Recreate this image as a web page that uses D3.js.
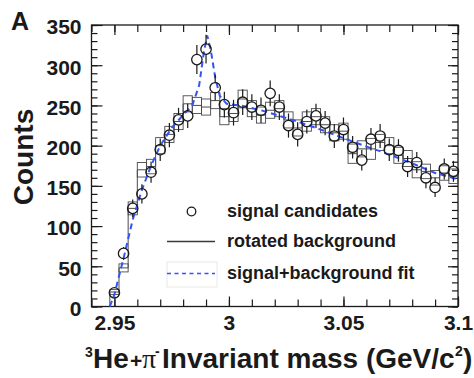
<!DOCTYPE html>
<html>
<head>
<meta charset="utf-8">
<script src="https://cdn.jsdelivr.net/npm/d3@7"></script>
<style>
  body { margin: 0; background: #fff; }
  svg { display: block; }
  text { font-family: "Liberation Sans", Arial, Helvetica, sans-serif; }
</style>
</head>
<body>
<svg id="chart" width="474" height="378"></svg>
<script>
// histogram binning (GeV/c^2)
var binStart = 2.948, binWidth = 0.004;

// signal candidates per bin
var counts = [17, 66, 122, 140, 167, 195, 213, 232, 237, 307, 320, 272, 251, 241, 254, 248, 244, 265, 248, 225,
              214, 230, 237, 228, 212, 220, 198, 182, 208, 212, 195, 194, 174, 179, 160, 148, 171, 168];
var countErr = [4, 8, 11, 12, 13, 14, 15, 15, 15, 18, 18, 16, 16, 16, 16, 16, 16, 16, 16, 15,
                15, 15, 15, 15, 15, 15, 14, 13, 14, 15, 14, 14, 13, 13, 13, 12, 13, 13];

// rotated background per bin
var background = [18, 48, 122, 170, 174, 200, 214, 230, 252, 250, 248, 256, 236, 240, 258, 246, 238, 244, 246, 232,
                  222, 230, 236, 226, 216, 218, 190, 196, 196, 204, 200, 188, 184, 170, 168, 160, 166, 162];
var backgroundErr = [3, 5, 8, 9, 9, 10, 10, 10, 10, 10, 10, 10, 10, 10, 11, 10, 10, 10, 10, 10,
                     10, 12, 10, 10, 10, 10, 12, 10, 13, 10, 10, 10, 10, 10, 9, 9, 9, 9];

// signal+background fit
var fitX = [2.948, 2.950, 2.954, 2.958, 2.962, 2.966, 2.970, 2.975, 2.980, 2.984, 2.987, 2.989, 2.9905,
            2.992, 2.994, 2.996, 2.999, 3.005, 3.014, 3.030, 3.042, 3.055, 3.067, 3.080, 3.090, 3.100];
var fitY = [0, 15, 60, 108, 145, 175, 200, 222, 238, 250, 275, 315, 337,
            320, 285, 262, 252, 250, 244, 230, 218, 204, 192, 178, 166, 158];

// axis ticks
var xTicks = [2.95, 3, 3.05, 3.1];
var xTickLabels = ["2.95", "3", "3.05", "3.1"];
var yTicks = [0, 50, 100, 150, 200, 250, 300, 350];
var yTickLabels = ["0", "50", "100", "150", "200", "250", "300", "350"];

var legendLabels = ["signal candidates", "rotated background", "signal+background fit"];

var frame = {left: 91.5, right: 458, top: 25, bottom: 306.5};
var blue = "#3552f5", ink = "#1a1a1a", histInk = "#4a4a4a";

var svg = d3.select("#chart");

var x = d3.scaleLinear().domain([2.94, 3.1]).range([frame.left, frame.right]);
var y = d3.scaleLinear().domain([0, 350]).range([frame.bottom, frame.top]);

var xMinor = d3.range(2.94, 3.1001, 0.01);
var yMinor = d3.range(0, 351, 10);

//Axes, ROOT style: ticks inside the frame on all four sides
function addAxis(axis, tx, ty){
  var g = svg.append("g")
    .attr("transform", "translate(" + tx + "," + ty + ")")
    .call(axis);
  g.select(".domain").remove();
  g.selectAll(".tick line").style("stroke", ink).style("stroke-width", "1.2");
  return g;
}

addAxis(d3.axisBottom(x).tickValues(xMinor).tickSize(-7).tickFormat(""), 0, frame.bottom);
addAxis(d3.axisTop(x).tickValues(xMinor).tickSize(-7).tickFormat(""), 0, frame.top);
addAxis(d3.axisLeft(y).tickValues(yMinor).tickSize(-6).tickFormat(""), frame.left, 0);
addAxis(d3.axisRight(y).tickValues(yMinor).tickSize(-6).tickFormat(""), frame.right, 0);
addAxis(d3.axisTop(x).tickValues(xTicks).tickSize(-10).tickFormat(""), 0, frame.top);
addAxis(d3.axisRight(y).tickValues(yTicks).tickSize(-10).tickFormat(""), frame.right, 0);

var xAxis = addAxis(d3.axisBottom(x).tickValues(xTicks).tickSize(-10)
    .tickFormat(function(d, i){ return xTickLabels[i]; }), 0, frame.bottom);
xAxis.selectAll("text")
  .attr("y", 23.5)
  .attr("dy", 0)
  .style("font-size", "21px")
  .style("font-weight", "bold")
  .style("fill", ink);

var yAxis = addAxis(d3.axisLeft(y).tickValues(yTicks).tickSize(-11)
    .tickFormat(function(d, i){ return yTickLabels[i]; }), frame.left, 0);
yAxis.selectAll("text")
  .attr("x", -10)
  .attr("dy", "0.42em")
  .style("font-size", "21px")
  .style("font-weight", "bold")
  .style("fill", ink);

//Frame
svg.append("rect")
  .attr("x", frame.left)
  .attr("y", frame.top)
  .attr("width", frame.right - frame.left)
  .attr("height", frame.bottom - frame.top)
  .style("fill", "none")
  .style("stroke", ink)
  .style("stroke-width", "1.3");

var plot = svg.append("g");

//Rotated background: step line plus error boxes
var stepPts = [[x(binStart), y(0)]];
background.forEach(function(b, i){
  stepPts.push([x(binStart + i * binWidth), y(b)]);
  stepPts.push([x(binStart + (i + 1) * binWidth), y(b)]);
});

plot.append("path")
  .attr("d", d3.line()(stepPts))
  .style("fill", "none")
  .style("stroke", histInk)
  .style("stroke-width", "1");

plot.selectAll(".bgbox").data(background)
  .enter().append("rect")
    .attr("class", "bgbox")
    .attr("x", function(d, i){ return x(binStart + i * binWidth); })
    .attr("width", x(binStart + binWidth) - x(binStart))
    .attr("y", function(d, i){ return y(d + backgroundErr[i]); })
    .attr("height", function(d, i){ return y(d - backgroundErr[i]) - y(d + backgroundErr[i]); })
    .style("fill", "none")
    .style("stroke", histInk)
    .style("stroke-width", "0.9");

//Fit
plot.append("path")
  .datum(fitX)
  .attr("d", d3.line()
    .x(function(d){ return x(d); })
    .y(function(d, i){ return y(fitY[i]); }))
  .style("fill", "none")
  .style("stroke", blue)
  .style("stroke-width", "2")
  .style("stroke-dasharray", "6,4");

//Signal candidates: open circles with error bars outside the marker
var r = 5.2;
counts.forEach(function(c, i){
  var cx = x(binStart + (i + 0.5) * binWidth),
      cy = y(c),
      top = y(c + countErr[i]),
      bot = y(c - countErr[i]);

  if(cy - top > r){
    plot.append("line").attr("x1", cx).attr("x2", cx).attr("y1", top).attr("y2", cy - r)
      .style("stroke", ink).style("stroke-width", "1.2");
    plot.append("line").attr("x1", cx).attr("x2", cx).attr("y1", cy + r).attr("y2", bot)
      .style("stroke", ink).style("stroke-width", "1.2");
  }
  plot.append("circle")
    .attr("cx", cx)
    .attr("cy", cy)
    .attr("r", r)
    .style("fill", "none")
    .style("stroke", ink)
    .style("stroke-width", "1.3");
});

//Legend
var legend = svg.append("g");
legend.append("rect")
  .attr("x", 167).attr("y", 262).attr("width", 50).attr("height", 25)
  .style("fill", "none").style("stroke", "#e8e8e8");
legend.append("circle")
  .attr("cx", 191.5).attr("cy", 211.5).attr("r", 4.3)
  .style("fill", "none").style("stroke", ink).style("stroke-width", "1.3");
legend.append("line")
  .attr("x1", 167).attr("x2", 215).attr("y1", 241.5).attr("y2", 241.5)
  .style("stroke", "#3a3a3a").style("stroke-width", "1.3");
legend.append("line")
  .attr("x1", 167).attr("x2", 215).attr("y1", 273.5).attr("y2", 273.5)
  .style("stroke", blue).style("stroke-width", "1.6").style("stroke-dasharray", "4,3.5");

legend.selectAll("text").data(legendLabels)
  .enter().append("text")
    .attr("x", 227)
    .attr("y", function(d, i){ return [216.5, 247, 278.5][i]; })
    .style("font-size", "18px")
    .style("font-weight", "bold")
    .style("fill", ink)
    .text(function(d){ return d; });

//Panel letter
svg.append("text")
  .attr("x", 11).attr("y", 30)
  .style("font-size", "25px").style("font-weight", "bold").style("fill", ink)
  .text("A");

//Label for Y axis
svg.append("text")
  .attr("transform", "translate(33,157) rotate(-90)")
  .style("text-anchor", "middle")
  .style("font-size", "28px")
  .style("font-weight", "bold")
  .style("fill", ink)
  .text("Counts");

//Label for X axis, pieces placed one by one
var xl = svg.append("text")
  .attr("y", 368)
  .style("font-size", "28px")
  .style("font-weight", "bold")
  .style("fill", ink);
xl.append("tspan").attr("x", 85).attr("y", 357).style("font-size", "14px").text("3");
xl.append("tspan").attr("x", 93).attr("y", 368).text("He");
xl.append("tspan").attr("x", 130).attr("y", 368).style("font-size", "21px").text("+");
xl.append("tspan").attr("x", 142).attr("y", 368)
  .style("font-family", "'Liberation Serif', 'Times New Roman', serif")
  .style("font-weight", "normal").text("\u03c0");
xl.append("tspan").attr("x", 155).attr("y", 356).style("font-size", "14px").text("-");
xl.append("tspan").attr("x", 162).attr("y", 368).text("Invariant mass (GeV/c");
xl.append("tspan").attr("x", 455).attr("y", 356).style("font-size", "14px").text("2");
xl.append("tspan").attr("x", 463).attr("y", 368).text(")");
</script>
</body>
</html>
